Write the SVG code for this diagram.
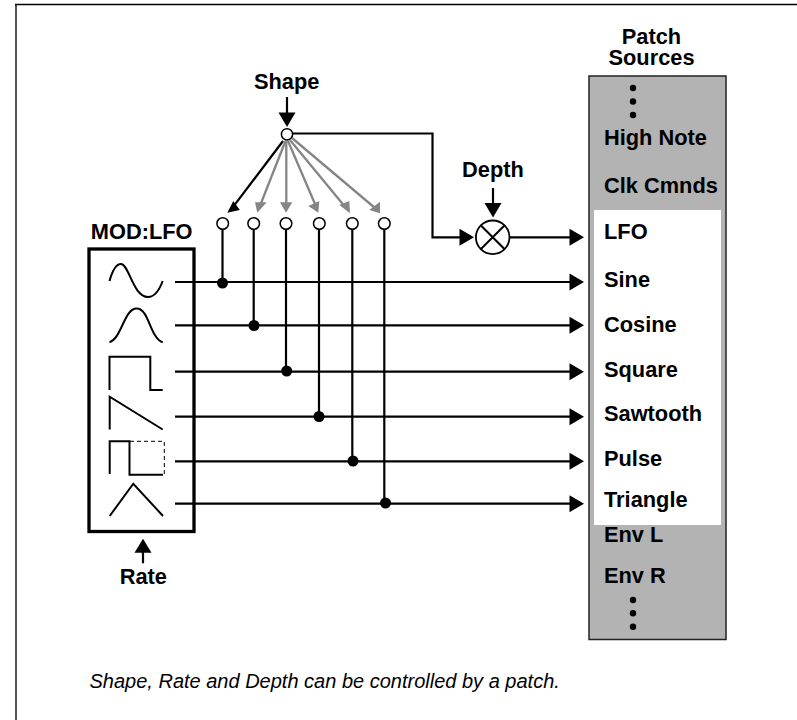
<svg xmlns="http://www.w3.org/2000/svg" width="797" height="720" viewBox="0 0 797 720">
<style>
text{font-family:"Liberation Sans",Arial,sans-serif;font-weight:bold;font-size:21.8px;fill:#000}
.m{text-anchor:middle}
.note{font-weight:normal;font-style:italic;font-size:20px}
.l{fill:none;stroke:#000;stroke-width:2.2}
.g{fill:none;stroke:#858585;stroke-width:2.3}
.w{fill:none;stroke:#000;stroke-width:2}
.o{fill:#fff;stroke:#000;stroke-width:1.5}
.d{fill:#000}
.hg{fill:#858585}
</style>
<defs>
<polygon id="ar" points="0,0 -14.500,-8.500 -14.500,8.500"/>
<polygon id="ad" points="0,0 -8.500,-14.500 8.500,-14.500"/>
<polygon id="au" points="0,0 -8.500,14 8.500,14"/>
</defs>
<rect width="797" height="720" fill="#fff"/>
<g id="frame">
<path d="M16 720V4" fill="none" stroke="#555" stroke-width="2"/>
<path d="M15 4.500H797" fill="none" stroke="#000" stroke-width="1.500"/>
</g>
<g id="patch-sources">
<rect x="589" y="76" width="137" height="563.500" fill="#b3b3b3" stroke="#222" stroke-width="1.500"/>
<rect x="594" y="210" width="127" height="315" fill="#fff"/>
<circle class="d" cx="633" cy="88" r="3.200"/><circle class="d" cx="633" cy="101.500" r="3.200"/><circle class="d" cx="633" cy="115" r="3.200"/>
<circle class="d" cx="633" cy="600" r="3.200"/><circle class="d" cx="633" cy="613.300" r="3.200"/><circle class="d" cx="633" cy="626.700" r="3.200"/>
<text class="m" x="651.500" y="44">Patch</text>
<text class="m" x="651.500" y="65">Sources</text>
<text x="604" y="145">High Note</text>
<text x="604" y="192.700">Clk Cmnds</text>
<text x="604" y="239">LFO</text>
<text x="604" y="286.700">Sine</text>
<text x="604" y="331.700">Cosine</text>
<text x="604" y="377">Square</text>
<text x="604" y="420.700">Sawtooth</text>
<text x="604" y="465.700">Pulse</text>
<text x="604" y="507.300">Triangle</text>
<text x="604" y="541.700">Env L</text>
<text x="604" y="583.300">Env R</text>
</g>
<g id="connectors">
<path class="l" d="M175 282H570M175 325.300H570M175 371.700H570M175 416.700H570M175 461.300H570M175 503.700H570"/>
<use href="#ar" x="584" y="282"/><use href="#ar" x="584" y="325.300"/><use href="#ar" x="584" y="371.700"/><use href="#ar" x="584" y="416.700"/><use href="#ar" x="584" y="461.300"/><use href="#ar" x="584" y="503.700"/>
<path class="l" d="M222.500 229V283M253.700 229V326M286 229V371M319 229V416M352.300 229V461M384.300 229V503"/>
<circle class="d" cx="222.500" cy="283" r="5.500"/><circle class="d" cx="254" cy="325.500" r="5.500"/><circle class="d" cx="286.700" cy="371" r="5.500"/><circle class="d" cx="319" cy="416.500" r="5.500"/><circle class="d" cx="353" cy="461" r="5.500"/><circle class="d" cx="385.500" cy="503" r="5.500"/>
<path class="l" d="M287 97V114"/><use href="#ad" x="287" y="127"/>
<path class="l" d="M292 133.500H432.500V237.300H461"/><use href="#ar" x="474" y="237.300"/>
<path class="l" d="M510 237.300H570"/><use href="#ar" x="584" y="237.300"/>
<path class="l" d="M493 188V204"/><use href="#ad" x="493" y="217.500"/>
<path class="l" d="M143 563.300V551"/><use href="#au" x="143" y="538.700"/>
<path class="l" d="M283 141L233.300 206.700"/><polygon points="227.300,212.700 233.300,201 239.800,210"/>
<g class="hg">
<path class="g" d="M285.500 141L260.700 204"/><polygon points="257.300,212.700 255,202.300 266.700,202.300"/>
<path class="g" d="M286.300 141V204"/><polygon points="286,212.700 280,202.300 292.300,202.300"/>
<path class="g" d="M288 141L315 204"/><polygon points="318.300,212.700 308.300,206 319.300,201"/>
<path class="g" d="M290 140L345 206.700"/><polygon points="350,213.300 339.300,205 349.300,201"/>
<path class="g" d="M292 138L375 208"/><polygon points="380,213.300 369.300,210 380,201.700"/>
</g>
</g>
<g id="mod-lfo">
<rect x="89" y="249" width="105" height="282.500" fill="none" stroke="#000" stroke-width="3.300"/>
<text class="m" x="141.700" y="239">MOD:LFO</text>
<path class="w" d="M109.500 281C112 272 116 264 121 264C129 264 133 297 148 297C154 297 159 291 162.700 281"/>
<path class="w" d="M109.500 342.300C122 338 124 308.500 136.700 308.500C149 308.500 150 338 162.700 342.300"/>
<path class="w" d="M109.500 390V356.700H150.300V390H162.700"/>
<path class="w" d="M109.700 429.500V396.700L162.700 429.500"/>
<path class="w" d="M109.700 474V441.300H129.500V474.700H163"/>
<path d="M130 441.300H164.300V474" fill="none" stroke="#000" stroke-width="1" stroke-dasharray="4 3"/>
<path class="w" d="M109.700 516L133.300 483.700L163 516"/>
</g>
<g id="rate"><text class="m" x="143.300" y="584">Rate</text></g>
<g id="shape">
<text class="m" x="286.700" y="88.500">Shape</text>
<circle class="o" cx="287" cy="134.300" r="5.600"/>
</g>
<g id="taps">
<circle class="o" cx="222.700" cy="223.500" r="5.800"/><circle class="o" cx="253.700" cy="223.500" r="5.800"/><circle class="o" cx="286" cy="223.500" r="5.800"/><circle class="o" cx="319.300" cy="223.500" r="5.800"/><circle class="o" cx="352.300" cy="223.500" r="5.800"/><circle class="o" cx="384.300" cy="223.500" r="5.800"/>
</g>
<g id="depth">
<text class="m" x="493" y="177.300">Depth</text>
<circle cx="492.700" cy="237.300" r="16.800" fill="#fff" stroke="#000" stroke-width="1.800"/>
<path class="w" d="M480.700 225.300L504.700 249.300M504.700 225.300L480.700 249.300"/>
</g>
<text class="note" x="89.500" y="688">Shape, Rate and Depth can be controlled by a patch.</text>
</svg>
